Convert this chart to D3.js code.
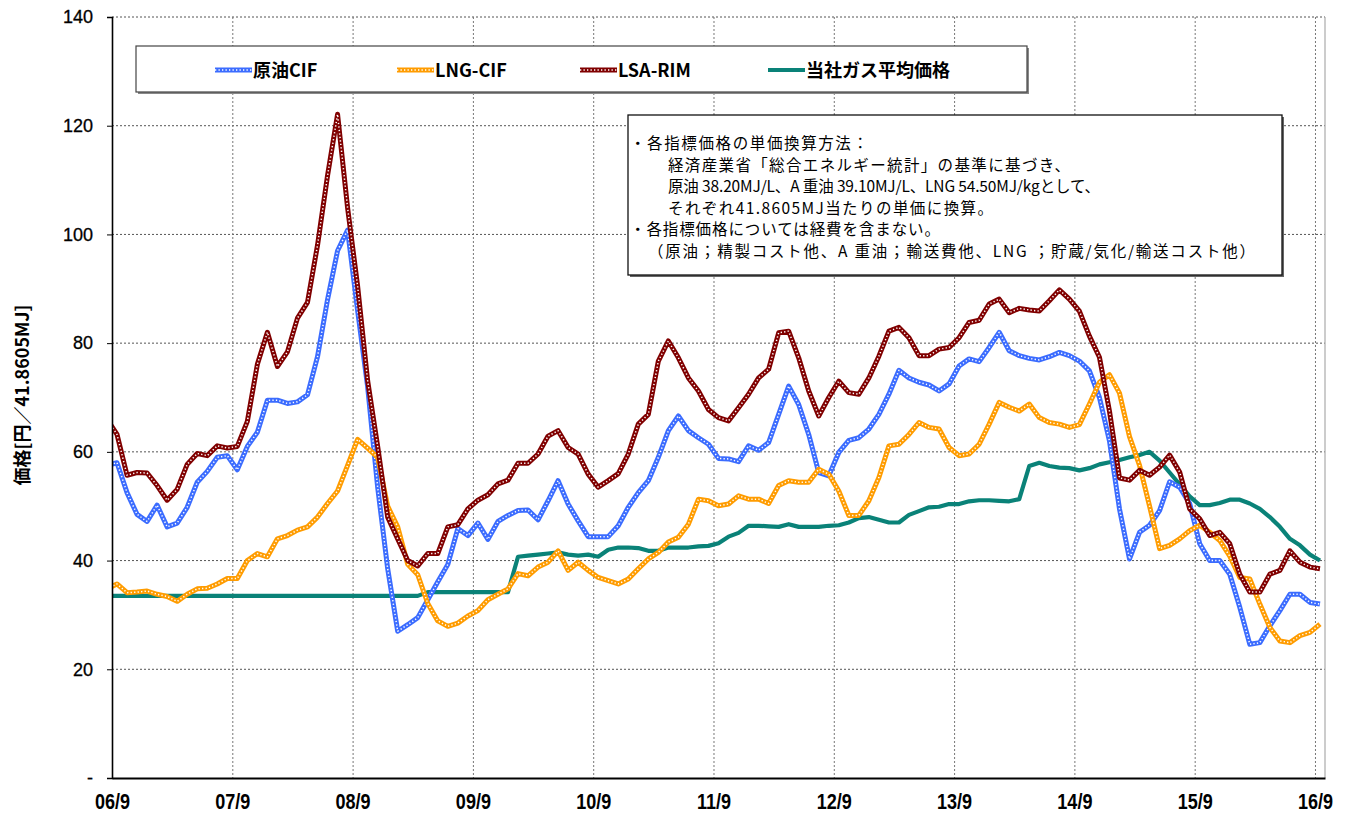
<!DOCTYPE html>
<html><head><meta charset="utf-8">
<script src="https://cdn.jsdelivr.net/npm/d3@7"></script>
<style>
html,body{margin:0;padding:0;background:#fff;}
svg{display:block;}
</style></head>
<body>
<svg id="chart" width="1356" height="814"></svg>
<script>
// ---- data: monthly values from 06/8 to 16/9 (円/41.8605MJ) ----
const yearTicks = ["06/9","07/9","08/9","09/9","10/9","11/9","12/9","13/9","14/9","15/9","16/9"];
const yTicks = [0,20,40,60,80,100,120,140];
const seriesNames = ["原油CIF","LNG-CIF","LSA-RIM","当社ガス平均価格"];

const crudeCIF = [57.5,58.0,52.5,48.5,47.2,50.2,46.2,46.9,49.8,54.4,56.4,59.0,59.3,56.7,61.0,63.6,69.5,69.5,68.9,69.2,70.5,77.5,88.0,97.0,100.8,86.0,72.0,53.5,38.5,27.0,28.2,29.5,32.8,36.1,39.3,45.9,44.6,46.9,43.9,47.2,48.3,49.2,49.3,47.5,51.0,54.7,50.4,47.3,44.4,44.4,44.4,46.4,49.8,52.5,54.7,59.0,63.9,66.6,63.9,62.6,61.4,58.8,58.7,58.2,61.1,60.3,61.7,66.9,72.1,68.7,63.2,56.2,55.6,59.9,62.1,62.6,64.2,66.9,70.6,75.0,73.6,72.8,72.3,71.2,72.5,75.8,77.1,76.6,79.2,82.0,78.6,77.7,77.2,76.9,77.5,78.3,77.7,76.7,74.9,70.0,62.0,49.5,40.3,45.2,46.5,49.2,54.5,53.5,50.5,43.1,40.0,40.0,37.5,31.4,24.6,24.9,28.0,30.8,33.8,33.8,32.3,32.0];

const lngCIF = [34.8,35.7,34.1,34.2,34.4,33.8,33.4,32.5,33.8,34.8,34.9,35.7,36.7,36.7,40.0,41.3,40.7,44.0,44.6,45.6,46.2,48.0,50.5,52.8,57.5,62.3,60.7,59.0,50.0,46.2,39.3,37.4,32.1,28.9,27.9,28.5,29.8,30.8,32.8,33.8,34.8,37.6,37.2,38.8,39.7,41.8,38.2,39.7,38.2,36.9,36.3,35.7,36.6,38.5,40.3,41.5,43.4,44.3,46.7,51.3,51.0,50.1,50.4,51.9,51.3,51.3,50.5,53.8,54.7,54.4,54.4,56.8,55.9,52.8,48.3,48.3,51.0,55.3,61.1,61.4,63.2,65.4,64.5,64.2,60.8,59.3,59.6,61.4,65.1,69.1,68.2,67.5,68.8,66.3,65.4,65.1,64.5,65.0,68.8,72.8,74.2,70.8,62.8,57.5,50.0,42.2,42.8,44.0,45.5,46.5,45.2,43.7,40.8,36.9,36.6,32.0,27.7,25.2,24.9,26.2,26.8,28.3];

const lsaRIM = [66.0,63.2,55.7,56.2,56.1,53.8,51.1,53.1,57.7,59.7,59.3,61.1,60.7,61.0,65.6,76.1,82.0,75.7,78.4,84.6,87.5,98.0,110.8,122.1,104.9,90.5,73.1,61.0,48.0,44.0,40.0,39.0,41.3,41.3,46.2,46.6,49.5,51.1,52.1,54.1,54.8,57.9,57.9,59.6,62.9,63.9,60.8,59.6,55.9,53.5,54.7,56.0,59.6,65.1,66.9,76.7,80.4,77.3,73.6,71.2,67.8,66.3,65.7,68.1,70.6,73.6,75.2,81.9,82.2,77.3,71.2,66.6,70.0,73.0,70.9,70.6,73.6,77.6,82.2,82.9,81.0,77.7,77.7,78.9,79.2,81.0,83.8,84.2,87.2,88.1,85.6,86.4,86.1,85.9,87.8,89.8,88.1,85.9,81.3,77.4,67.5,55.2,54.8,56.6,55.7,57.2,59.4,56.3,49.5,47.7,44.6,45.2,43.1,37.5,34.2,34.2,37.5,38.2,41.8,39.7,38.8,38.5];

const gasAvg = [33.5,33.5,33.5,33.5,33.5,33.5,33.5,33.5,33.5,33.5,33.5,33.5,33.5,33.5,33.5,33.5,33.5,33.5,33.5,33.5,33.5,33.5,33.5,33.5,33.5,33.5,33.5,33.5,33.5,33.5,33.5,33.5,34.2,34.2,34.2,34.2,34.2,34.2,34.2,34.2,34.2,40.7,40.9,41.1,41.3,41.5,41.1,40.9,41.1,40.7,42.0,42.4,42.4,42.3,41.8,41.8,42.4,42.4,42.4,42.6,42.7,43.2,44.4,45.1,46.4,46.4,46.3,46.2,46.7,46.2,46.2,46.2,46.4,46.5,47.0,47.8,48.0,47.5,47.0,47.0,48.4,49.1,49.8,49.9,50.4,50.4,50.9,51.1,51.1,51.0,50.9,51.3,57.4,58.0,57.4,57.1,57.0,56.6,57.0,57.7,58.1,58.5,59.0,59.4,60.0,58.4,56.2,54.0,51.8,50.2,50.2,50.6,51.2,51.2,50.5,49.5,48.0,46.2,44.0,42.8,41.1,40.0];

const noteLines = [
  "・各指標価格の単価換算方法：",
  "経済産業省「総合エネルギー統計」の基準に基づき、",
  "原油 38.20MJ/L、A 重油 39.10MJ/L、LNG 54.50MJ/kgとして、",
  "それぞれ41.8605MJ当たりの単価に換算。",
  "・各指標価格については経費を含まない。",
  "（原油；精製コスト他、A 重油；輸送費他、LNG ；貯蔵/気化/輸送コスト他）"
];
const noteIndent = [0, 38, 38, 38, 0, 18];
const noteWidth  = [238, 402, 432, 325, 310, 607];

// ---- layout ----
const svg = d3.select("#chart");
const L = 112, R = 1325, T = 17, B = 778;
const x = d3.scaleLinear().domain([0, 121]).range([L, R]);
const y = d3.scaleLinear().domain([0, 140]).range([B, T]);
const pos = k => k - 0.5; // point k sits mid-month; k=0 is 06/8

const series = [
  {name: seriesNames[3], values: gasAvg,   color: "#0a8278", width: 4.2, dots: false},
  {name: seriesNames[0], values: crudeCIF, color: "#3b6cff", width: 5,   dots: true},
  {name: seriesNames[1], values: lngCIF,   color: "#ff9c00", width: 5,   dots: true},
  {name: seriesNames[2], values: lsaRIM,   color: "#800000", width: 5,   dots: true}
];

// gridlines
const grid = svg.append("g");
grid.selectAll("line.h").data(yTicks.filter(v => v > 0)).join("line")
  .attr("x1", L).attr("x2", R).attr("y1", d => y(d)).attr("y2", d => y(d))
  .attr("stroke", "#555").attr("stroke-width", 1).attr("stroke-dasharray", "2,2");
grid.selectAll("line.v").data(yearTicks.map((d, i) => i * 12)).join("line")
  .attr("x1", d => x(d) + 0.5).attr("x2", d => x(d) + 0.5).attr("y1", T).attr("y2", B)
  .attr("stroke", "#777").attr("stroke-width", 1).attr("stroke-dasharray", "2,2");
// right border
svg.append("line").attr("x1", R).attr("x2", R).attr("y1", T).attr("y2", B)
  .attr("stroke", "#aaa").attr("stroke-width", 1.2);

// series
svg.append("clipPath").attr("id", "clip").append("rect")
  .attr("x", L).attr("y", 0).attr("width", R - L - 1).attr("height", B);
const lineGen = vals => d3.line().x((d, k) => x(pos(k))).y(d => y(d))(vals);
const sg = svg.append("g").attr("clip-path", "url(#clip)");
series.forEach(s => {
  sg.append("path").attr("d", lineGen(s.values)).attr("fill", "none")
    .attr("stroke", s.color).attr("stroke-width", s.width).attr("stroke-linejoin", "round");
  if (s.dots) {
    sg.append("path").attr("d", lineGen(s.values)).attr("fill", "none")
      .attr("stroke", "#fff").attr("stroke-width", 1.5).attr("stroke-dasharray", "1.3,2.2")
      .attr("stroke-linejoin", "round");
  }
});

// axes
const yAxis = svg.append("g").attr("transform", `translate(${L},0)`)
  .call(d3.axisLeft(y).tickValues(yTicks).tickSize(5).tickPadding(14)
    .tickFormat(d => d === 0 ? "-" : d));
yAxis.select(".domain").attr("stroke", "#000").attr("stroke-width", 1.6);
yAxis.selectAll(".tick line").attr("stroke", "#000");
yAxis.selectAll("text").attr("font-family", "Liberation Sans, Arial, sans-serif")
  .attr("font-size", 18).attr("fill", "#000").attr("stroke", "#000").attr("stroke-width", 0.3);

const xAxis = svg.append("g").attr("transform", `translate(0,${B})`)
  .call(d3.axisBottom(x).tickValues(yearTicks.map((d, i) => i * 12)).tickSize(0).tickPadding(15)
    .tickFormat((d, i) => yearTicks[i]));
xAxis.select(".domain").attr("stroke", "#000").attr("stroke-width", 1.8);
xAxis.selectAll("text").attr("font-family", "Liberation Sans, Arial, sans-serif")
  .attr("font-weight", "bold").attr("font-size", 22).attr("fill", "#000")
  .attr("transform", "scale(0.82,1)");

// y title
svg.append("text").attr("transform", "translate(29,395) rotate(-90)")
  .attr("text-anchor", "middle").attr("font-family", "Noto Sans CJK JP, sans-serif")
  .attr("font-weight", "bold").attr("font-size", 18).text("価格[円／41.8605MJ]");

// legend box
const lg = svg.append("g");
lg.append("rect").attr("x", 138).attr("y", 48).attr("width", 891).attr("height", 46).attr("fill", "#888");
lg.append("rect").attr("x", 136).attr("y", 46).attr("width", 891).attr("height", 46)
  .attr("fill", "#fff").attr("stroke", "#444").attr("stroke-width", 1.2);
const legendX = [215, 397, 580, 768];
const legendOrder = [series[1], series[2], series[3], series[0]];
legendOrder.forEach((s, i) => {
  const x0 = legendX[i], yy = 70;
  lg.append("line").attr("x1", x0).attr("x2", x0 + 37).attr("y1", yy).attr("y2", yy)
    .attr("stroke", s.color).attr("stroke-width", s.width);
  if (s.dots) lg.append("line").attr("x1", x0).attr("x2", x0 + 37).attr("y1", yy).attr("y2", yy)
    .attr("stroke", "#fff").attr("stroke-width", 1.5).attr("stroke-dasharray", "1.3,2.2");
  lg.append("text").attr("x", x0 + 38).attr("y", yy + 7)
    .attr("font-family", "Noto Sans CJK JP, sans-serif").attr("font-weight", "bold")
    .attr("font-size", 18).text(s.name);
});

// note box
const nb = svg.append("g");
nb.append("rect").attr("x", 630).attr("y", 117).attr("width", 654).attr("height", 160).attr("fill", "#666");
nb.append("rect").attr("x", 628).attr("y", 115).attr("width", 654).attr("height", 160)
  .attr("fill", "#fff").attr("stroke", "#111").attr("stroke-width", 1.3);
nb.selectAll("text").data(noteLines).join("text")
  .attr("x", (d, i) => 630 + noteIndent[i]).attr("y", (d, i) => 149 + i * 21.5)
  .attr("font-family", "Noto Sans CJK JP, sans-serif").attr("font-size", 15.5)
  .attr("textLength", (d, i) => noteWidth[i]).attr("lengthAdjust", "spacing")
  .attr("fill", "#000").text(d => d);
</script>
</body></html>
